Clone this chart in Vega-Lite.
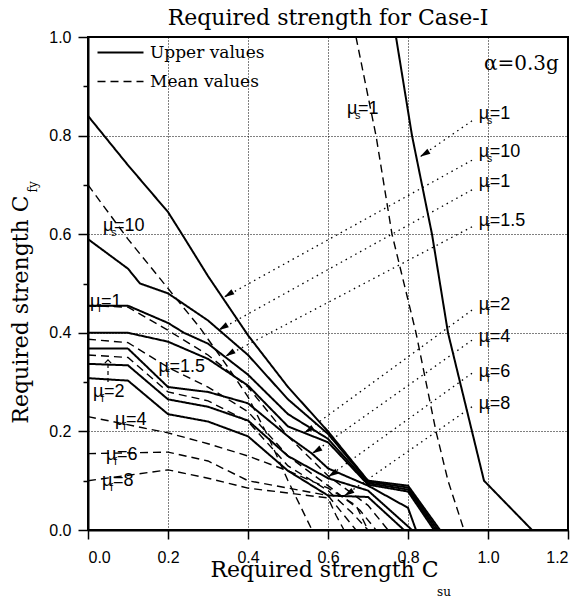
{
"$schema":"https://vega.github.io/schema/vega-lite/v6.json",
"autosize":"none",
"width":480,"height":493,
"padding":{"left":88,"top":37,"right":14,"bottom":69},
"background":"white",
"title":{"text":"Required strength for Case-I","font":"DejaVu Serif","fontSize":22,"fontWeight":"normal","color":"black","baseline":"alphabetic","offset":9,"dy":27,"anchor":"middle","frame":"group"},
"config":{
 "view":{"stroke":"black","strokeWidth":2},
 "axis":{"domainColor":"black","domainWidth":2,"tickColor":"black","tickWidth":1.5,"labelFont":"Liberation Sans","labelFontSize":16,"labelColor":"black","titleFont":"DejaVu Serif","titleFontSize":22,"titleFontWeight":"normal","titleColor":"black","labelOverlap":false,"grid":true,"gridColor":"black","gridDash":[1,2],"gridWidth":1}
},
"datasets":{
"curves":[
{"s":"Us1","t":"Upper values","x":0.77,"y":1.0},{"s":"Us1","t":"Upper values","x":0.81,"y":0.8},{"s":"Us1","t":"Upper values","x":0.86,"y":0.6},{"s":"Us1","t":"Upper values","x":0.9,"y":0.4},{"s":"Us1","t":"Upper values","x":0.96,"y":0.2},{"s":"Us1","t":"Upper values","x":0.99,"y":0.1},{"s":"Us1","t":"Upper values","x":1.11,"y":0},
{"s":"Us10","t":"Upper values","x":0,"y":0.84},{"s":"Us10","t":"Upper values","x":0.1,"y":0.74},{"s":"Us10","t":"Upper values","x":0.2,"y":0.645},{"s":"Us10","t":"Upper values","x":0.235,"y":0.6},{"s":"Us10","t":"Upper values","x":0.3,"y":0.515},{"s":"Us10","t":"Upper values","x":0.4,"y":0.395},{"s":"Us10","t":"Upper values","x":0.5,"y":0.29},{"s":"Us10","t":"Upper values","x":0.6,"y":0.2},{"s":"Us10","t":"Upper values","x":0.7,"y":0.1},{"s":"Us10","t":"Upper values","x":0.8,"y":0.09},{"s":"Us10","t":"Upper values","x":0.88,"y":0},
{"s":"Uf1","t":"Upper values","x":0,"y":0.59},{"s":"Uf1","t":"Upper values","x":0.1,"y":0.53},{"s":"Uf1","t":"Upper values","x":0.13,"y":0.5},{"s":"Uf1","t":"Upper values","x":0.2,"y":0.48},{"s":"Uf1","t":"Upper values","x":0.3,"y":0.425},{"s":"Uf1","t":"Upper values","x":0.4,"y":0.355},{"s":"Uf1","t":"Upper values","x":0.5,"y":0.265},{"s":"Uf1","t":"Upper values","x":0.6,"y":0.195},{"s":"Uf1","t":"Upper values","x":0.7,"y":0.098},{"s":"Uf1","t":"Upper values","x":0.8,"y":0.086},{"s":"Uf1","t":"Upper values","x":0.875,"y":0},
{"s":"Uf15","t":"Upper values","x":0,"y":0.455},{"s":"Uf15","t":"Upper values","x":0.1,"y":0.455},{"s":"Uf15","t":"Upper values","x":0.2,"y":0.42},{"s":"Uf15","t":"Upper values","x":0.24,"y":0.4},{"s":"Uf15","t":"Upper values","x":0.3,"y":0.378},{"s":"Uf15","t":"Upper values","x":0.4,"y":0.315},{"s":"Uf15","t":"Upper values","x":0.5,"y":0.235},{"s":"Uf15","t":"Upper values","x":0.6,"y":0.185},{"s":"Uf15","t":"Upper values","x":0.7,"y":0.095},{"s":"Uf15","t":"Upper values","x":0.8,"y":0.082},{"s":"Uf15","t":"Upper values","x":0.87,"y":0},
{"s":"Uf2","t":"Upper values","x":0,"y":0.4},{"s":"Uf2","t":"Upper values","x":0.1,"y":0.4},{"s":"Uf2","t":"Upper values","x":0.2,"y":0.382},{"s":"Uf2","t":"Upper values","x":0.3,"y":0.347},{"s":"Uf2","t":"Upper values","x":0.4,"y":0.293},{"s":"Uf2","t":"Upper values","x":0.5,"y":0.21},{"s":"Uf2","t":"Upper values","x":0.6,"y":0.178},{"s":"Uf2","t":"Upper values","x":0.7,"y":0.092},{"s":"Uf2","t":"Upper values","x":0.8,"y":0.078},{"s":"Uf2","t":"Upper values","x":0.865,"y":0},
{"s":"Uf4","t":"Upper values","x":0,"y":0.368},{"s":"Uf4","t":"Upper values","x":0.1,"y":0.368},{"s":"Uf4","t":"Upper values","x":0.2,"y":0.29},{"s":"Uf4","t":"Upper values","x":0.3,"y":0.28},{"s":"Uf4","t":"Upper values","x":0.4,"y":0.257},{"s":"Uf4","t":"Upper values","x":0.5,"y":0.19},{"s":"Uf4","t":"Upper values","x":0.56,"y":0.155},{"s":"Uf4","t":"Upper values","x":0.6,"y":0.125},{"s":"Uf4","t":"Upper values","x":0.7,"y":0.09},{"s":"Uf4","t":"Upper values","x":0.8,"y":0.045},{"s":"Uf4","t":"Upper values","x":0.82,"y":0},
{"s":"Uf6","t":"Upper values","x":0,"y":0.337},{"s":"Uf6","t":"Upper values","x":0.1,"y":0.334},{"s":"Uf6","t":"Upper values","x":0.2,"y":0.265},{"s":"Uf6","t":"Upper values","x":0.3,"y":0.25},{"s":"Uf6","t":"Upper values","x":0.4,"y":0.222},{"s":"Uf6","t":"Upper values","x":0.5,"y":0.15},{"s":"Uf6","t":"Upper values","x":0.6,"y":0.105},{"s":"Uf6","t":"Upper values","x":0.7,"y":0.08},{"s":"Uf6","t":"Upper values","x":0.81,"y":0},
{"s":"Uf8","t":"Upper values","x":0,"y":0.308},{"s":"Uf8","t":"Upper values","x":0.1,"y":0.303},{"s":"Uf8","t":"Upper values","x":0.2,"y":0.235},{"s":"Uf8","t":"Upper values","x":0.3,"y":0.22},{"s":"Uf8","t":"Upper values","x":0.4,"y":0.19},{"s":"Uf8","t":"Upper values","x":0.5,"y":0.12},{"s":"Uf8","t":"Upper values","x":0.6,"y":0.07},{"s":"Uf8","t":"Upper values","x":0.7,"y":0.067},{"s":"Uf8","t":"Upper values","x":0.79,"y":0},
{"s":"Ms1","t":"Mean values","x":0.67,"y":1.0},{"s":"Ms1","t":"Mean values","x":0.72,"y":0.8},{"s":"Ms1","t":"Mean values","x":0.76,"y":0.6},{"s":"Ms1","t":"Mean values","x":0.82,"y":0.4},{"s":"Ms1","t":"Mean values","x":0.87,"y":0.2},{"s":"Ms1","t":"Mean values","x":0.9,"y":0.1},{"s":"Ms1","t":"Mean values","x":0.94,"y":0},
{"s":"Ms10","t":"Mean values","x":0,"y":0.7},{"s":"Ms10","t":"Mean values","x":0.1,"y":0.59},{"s":"Ms10","t":"Mean values","x":0.2,"y":0.49},{"s":"Ms10","t":"Mean values","x":0.28,"y":0.41},{"s":"Ms10","t":"Mean values","x":0.35,"y":0.33},{"s":"Ms10","t":"Mean values","x":0.4,"y":0.27},{"s":"Ms10","t":"Mean values","x":0.45,"y":0.19},{"s":"Ms10","t":"Mean values","x":0.5,"y":0.1},{"s":"Ms10","t":"Mean values","x":0.56,"y":0},
{"s":"Mf1","t":"Mean values","x":0,"y":0.455},{"s":"Mf1","t":"Mean values","x":0.1,"y":0.452},{"s":"Mf1","t":"Mean values","x":0.2,"y":0.405},{"s":"Mf1","t":"Mean values","x":0.3,"y":0.355},{"s":"Mf1","t":"Mean values","x":0.4,"y":0.29},{"s":"Mf1","t":"Mean values","x":0.5,"y":0.19},{"s":"Mf1","t":"Mean values","x":0.6,"y":0.11},{"s":"Mf1","t":"Mean values","x":0.7,"y":0.05},{"s":"Mf1","t":"Mean values","x":0.75,"y":0},
{"s":"Mf15","t":"Mean values","x":0,"y":0.387},{"s":"Mf15","t":"Mean values","x":0.1,"y":0.38},{"s":"Mf15","t":"Mean values","x":0.2,"y":0.33},{"s":"Mf15","t":"Mean values","x":0.3,"y":0.29},{"s":"Mf15","t":"Mean values","x":0.4,"y":0.24},{"s":"Mf15","t":"Mean values","x":0.5,"y":0.15},{"s":"Mf15","t":"Mean values","x":0.6,"y":0.09},{"s":"Mf15","t":"Mean values","x":0.68,"y":0.04},{"s":"Mf15","t":"Mean values","x":0.72,"y":0},
{"s":"Mf2","t":"Mean values","x":0,"y":0.355},{"s":"Mf2","t":"Mean values","x":0.1,"y":0.35},{"s":"Mf2","t":"Mean values","x":0.2,"y":0.28},{"s":"Mf2","t":"Mean values","x":0.3,"y":0.262},{"s":"Mf2","t":"Mean values","x":0.4,"y":0.22},{"s":"Mf2","t":"Mean values","x":0.5,"y":0.13},{"s":"Mf2","t":"Mean values","x":0.6,"y":0.08},{"s":"Mf2","t":"Mean values","x":0.66,"y":0.035},{"s":"Mf2","t":"Mean values","x":0.7,"y":0},
{"s":"Mf4","t":"Mean values","x":0,"y":0.23},{"s":"Mf4","t":"Mean values","x":0.2,"y":0.197},{"s":"Mf4","t":"Mean values","x":0.3,"y":0.175},{"s":"Mf4","t":"Mean values","x":0.4,"y":0.15},{"s":"Mf4","t":"Mean values","x":0.5,"y":0.12},{"s":"Mf4","t":"Mean values","x":0.6,"y":0.085},{"s":"Mf4","t":"Mean values","x":0.67,"y":0.05},{"s":"Mf4","t":"Mean values","x":0.7,"y":0},
{"s":"Mf6","t":"Mean values","x":0,"y":0.155},{"s":"Mf6","t":"Mean values","x":0.2,"y":0.158},{"s":"Mf6","t":"Mean values","x":0.3,"y":0.14},{"s":"Mf6","t":"Mean values","x":0.4,"y":0.1},{"s":"Mf6","t":"Mean values","x":0.5,"y":0.085},{"s":"Mf6","t":"Mean values","x":0.6,"y":0.07},{"s":"Mf6","t":"Mean values","x":0.64,"y":0.03},{"s":"Mf6","t":"Mean values","x":0.67,"y":0},
{"s":"Mf8","t":"Mean values","x":0,"y":0.1},{"s":"Mf8","t":"Mean values","x":0.2,"y":0.122},{"s":"Mf8","t":"Mean values","x":0.3,"y":0.105},{"s":"Mf8","t":"Mean values","x":0.4,"y":0.085},{"s":"Mf8","t":"Mean values","x":0.5,"y":0.075},{"s":"Mf8","t":"Mean values","x":0.6,"y":0.065},{"s":"Mf8","t":"Mean values","x":0.62,"y":0.03},{"s":"Mf8","t":"Mean values","x":0.64,"y":0}
],
"leaders":[
{"x":0.96,"y":0.83,"x2":0.83,"y2":0.757},
{"x":0.96,"y":0.75,"x2":0.34,"y2":0.472},
{"x":0.96,"y":0.69,"x2":0.326,"y2":0.405},
{"x":0.96,"y":0.615,"x2":0.343,"y2":0.352},
{"x":0.96,"y":0.446,"x2":0.54,"y2":0.197},
{"x":0.96,"y":0.385,"x2":0.56,"y2":0.155},
{"x":0.96,"y":0.318,"x2":0.6,"y2":0.108},
{"x":0.96,"y":0.25,"x2":0.64,"y2":0.069}
],
"labels":[
{"x":0.977,"y":0.844,"sub":"s","rest":"=1"},
{"x":0.977,"y":0.767,"sub":"s","rest":"=10"},
{"x":0.977,"y":0.706,"sub":"f","rest":"=1"},
{"x":0.977,"y":0.627,"sub":"f","rest":"=1.5"},
{"x":0.977,"y":0.457,"sub":"f","rest":"=2"},
{"x":0.977,"y":0.391,"sub":"f","rest":"=4"},
{"x":0.977,"y":0.32,"sub":"f","rest":"=6"},
{"x":0.977,"y":0.255,"sub":"f","rest":"=8"},
{"x":0.6475,"y":0.854,"sub":"s","rest":"=1"},
{"x":0.0375,"y":0.617,"sub":"s","rest":"=10"},
{"x":0.005,"y":0.462,"sub":"f","rest":"=1"},
{"x":0.176,"y":0.33,"sub":"f","rest":"=1.5"},
{"x":0.0125,"y":0.28,"sub":"f","rest":"=2"},
{"x":0.0675,"y":0.223,"sub":"f","rest":"=4"},
{"x":0.045,"y":0.152,"sub":"f","rest":"=6"},
{"x":0.035,"y":0.1,"sub":"f","rest":"=8"}
],
"pointer":[{"x":0.05,"y":0.3,"x2":0.05,"y2":0.345}],
"note":[{"x":0.99,"y":0.946,"text":"α=0.3g"}],
"xsub":[{"x":0.89,"y":-0.1257,"text":"su"}],
"ysub":[{"x":-0.1375,"y":0.696,"text":"fy"}]
},
"layer":[
{"data":{"name":"curves"},
 "mark":{"type":"line","color":"black"},
 "encoding":{
  "x":{"field":"x","type":"quantitative","scale":{"domain":[0,1.2],"nice":false,"zero":false},
   "axis":{"title":"Required strength C","titleX":236,"titleY":46,"titleBaseline":"alphabetic","titleAlign":"center","titleAnchor":null,
    "values":[0,0.1,0.2,0.3,0.4,0.5,0.6,0.7,0.8,0.9,1.0,1.1,1.2],
    "labelExpr":"round(datum.value*10)%2==0 ? format(datum.value,'.1f') : ''",
    "tickSize":{"condition":{"test":"round(datum.value*10)%2==0","value":9},"value":5},
    "gridOpacity":{"condition":{"test":"round(datum.value*10)%2==0","value":1},"value":0},
    "labelPadding":10}},
  "y":{"field":"y","type":"quantitative","scale":{"domain":[0,1.0],"nice":false,"zero":false},
   "axis":{"title":"Required strength C","titleX":-61,"titleY":272,"titleBaseline":"alphabetic","titleAlign":"center","titleAngle":-90,
    "values":[0,0.1,0.2,0.3,0.4,0.5,0.6,0.7,0.8,0.9,1.0],
    "labelExpr":"round(datum.value*10)%2==0 ? format(datum.value,'.1f') : ''",
    "tickSize":{"condition":{"test":"round(datum.value*10)%2==0","value":10},"value":5},
    "gridOpacity":{"condition":{"test":"round(datum.value*10)%2==0","value":1},"value":0},
    "labelPadding":7}},
  "detail":{"field":"s"},
  "strokeDash":{"field":"t","type":"nominal","scale":{"domain":["Upper values","Mean values"],"range":[[1,0],[8,5]]},
   "legend":{"orient":"none","legendX":24,"legendY":7,"title":null,"symbolType":"M-4.6,0H4.6","symbolSize":100,"symbolStrokeColor":"black","symbolStrokeWidth":1.8,"labelFont":"DejaVu Serif","labelFontSize":17,"labelColor":"black","labelOffset":21,"rowPadding":11,"padding":0}},
  "strokeWidth":{"field":"t","type":"nominal","scale":{"domain":["Upper values","Mean values"],"range":[2,1.4]},"legend":null}
 }},
{"data":{"name":"leaders"},
 "mark":{"type":"rule","color":"black","strokeDash":[1.5,4],"strokeWidth":1.3},
 "encoding":{"x":{"field":"x","type":"quantitative","scale":{"domain":[0,1.2],"nice":false,"zero":false}},"y":{"field":"y","type":"quantitative","scale":{"domain":[0,1.0],"nice":false,"zero":false}},"x2":{"field":"x2"},"y2":{"field":"y2"}}},
{"data":{"name":"leaders"},
 "mark":{"type":"point","shape":"M0,0L0.55,2L-0.55,2Z","filled":true,"color":"black","size":110,"angle":238,"opacity":1},
 "encoding":{"x":{"field":"x2","type":"quantitative","scale":{"domain":[0,1.2],"nice":false,"zero":false}},"y":{"field":"y2","type":"quantitative","scale":{"domain":[0,1.0],"nice":false,"zero":false}}}},
{"data":{"name":"pointer"},
 "mark":{"type":"rule","color":"black","strokeDash":[4,3],"strokeWidth":1.2},
 "encoding":{"x":{"field":"x","type":"quantitative","scale":{"domain":[0,1.2],"nice":false,"zero":false}},"y":{"field":"y","type":"quantitative","scale":{"domain":[0,1.0],"nice":false,"zero":false}},"x2":{"field":"x2"},"y2":{"field":"y2"}}},
{"data":{"name":"pointer"},
 "mark":{"type":"point","shape":"M-1,1L0,0L1,1","filled":false,"color":"black","strokeWidth":1.2,"size":40,"opacity":1},
 "encoding":{"x":{"field":"x2","type":"quantitative","scale":{"domain":[0,1.2],"nice":false,"zero":false}},"y":{"field":"y2","type":"quantitative","scale":{"domain":[0,1.0],"nice":false,"zero":false}}}},
{"data":{"name":"labels"},
 "mark":{"type":"text","text":"μ","align":"left","baseline":"middle","font":"Liberation Sans","fontSize":18,"color":"black"},
 "encoding":{"x":{"field":"x","type":"quantitative","scale":{"domain":[0,1.2],"nice":false,"zero":false}},"y":{"field":"y","type":"quantitative","scale":{"domain":[0,1.0],"nice":false,"zero":false}}}},
{"data":{"name":"labels"},
 "mark":{"type":"text","align":"left","baseline":"middle","font":"Liberation Sans","fontSize":11,"color":"black","dx":8,"dy":7},
 "encoding":{"x":{"field":"x","type":"quantitative","scale":{"domain":[0,1.2],"nice":false,"zero":false}},"y":{"field":"y","type":"quantitative","scale":{"domain":[0,1.0],"nice":false,"zero":false}},"text":{"field":"sub"}}},
{"data":{"name":"labels"},
 "mark":{"type":"text","align":"left","baseline":"middle","font":"Liberation Sans","fontSize":18,"color":"black","dx":11},
 "encoding":{"x":{"field":"x","type":"quantitative","scale":{"domain":[0,1.2],"nice":false,"zero":false}},"y":{"field":"y","type":"quantitative","scale":{"domain":[0,1.0],"nice":false,"zero":false}},"text":{"field":"rest"}}},
{"data":{"name":"note"},
 "mark":{"type":"text","align":"left","baseline":"middle","font":"DejaVu Serif","fontSize":20,"color":"black"},
 "encoding":{"x":{"field":"x","type":"quantitative","scale":{"domain":[0,1.2],"nice":false,"zero":false}},"y":{"field":"y","type":"quantitative","scale":{"domain":[0,1.0],"nice":false,"zero":false}},"text":{"field":"text"}}},
{"data":{"name":"xsub"},
 "mark":{"type":"text","align":"center","baseline":"middle","font":"DejaVu Serif","fontSize":12,"color":"black"},
 "encoding":{"x":{"field":"x","type":"quantitative","scale":{"domain":[0,1.2],"nice":false,"zero":false}},"y":{"field":"y","type":"quantitative","scale":{"domain":[0,1.0],"nice":false,"zero":false}},"text":{"field":"text"}}},
{"data":{"name":"ysub"},
 "mark":{"type":"text","align":"center","baseline":"middle","font":"DejaVu Serif","fontSize":12,"color":"black","angle":270},
 "encoding":{"x":{"field":"x","type":"quantitative","scale":{"domain":[0,1.2],"nice":false,"zero":false}},"y":{"field":"y","type":"quantitative","scale":{"domain":[0,1.0],"nice":false,"zero":false}},"text":{"field":"text"}}}
]
}
